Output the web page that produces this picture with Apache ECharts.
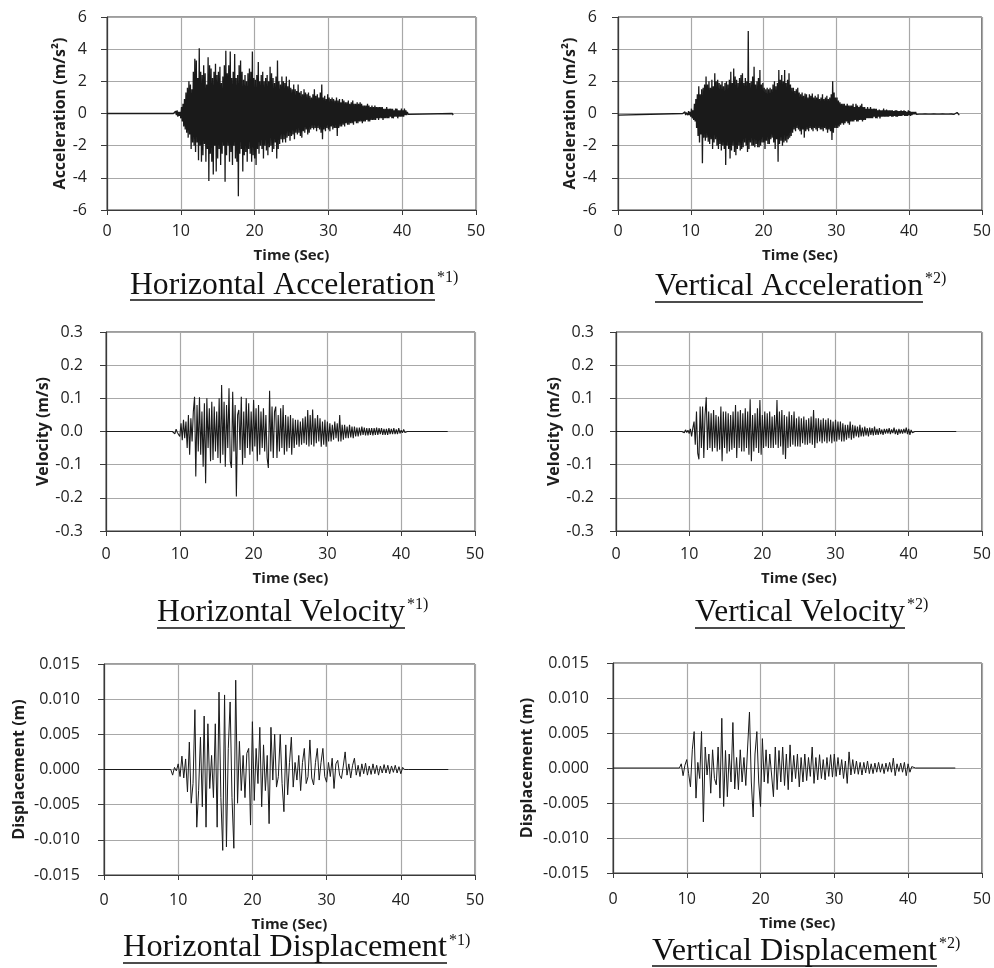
<!DOCTYPE html>
<html><head><meta charset="utf-8">
<script src="https://cdn.jsdelivr.net/npm/echarts@6/dist/echarts.min.js"></script>
<style>html,body{margin:0;padding:0;background:#fff}#c{width:994px;height:968px}</style>
</head><body><div id="c"></div>
<script>
// ---------------- DATA ----------------
const timeTicks = [0, 10, 20, 30, 40, 50];
const accTicks = [-6, -4, -2, 0, 2, 4, 6];
const velTicks = [-0.3, -0.2, -0.1, 0.0, 0.1, 0.2, 0.3];
const dispTicks = [-0.015, -0.010, -0.005, 0.000, 0.005, 0.010, 0.015];

// Horizontal acceleration (m/s2), samples every 0.1 s from 9.0 s
const hAccStart = 9.0, hAccStep = 0.1;
const hAccLead = [[0, 0]];
const hAccValues = [
0,0.1,-0.1,0.15,-0.1,0.2,-0.2,0.1,-0.15,0.1,
-0.3,0.4,-0.5,0.6,-0.8,0.9,-1.0,1.3,-1.2,1.6,
-1.5,2.0,-1.3,1.8,-2.2,1.5,-1.8,2.6,-2.0,3.4,
-2.4,3.3,-1.8,2.2,-2.9,4.05,-2.0,2.6,-3.0,2.4,
-2.6,3.0,-1.9,2.5,-3.0,1.8,-2.2,3.5,-4.2,3.0,
-2.5,2.8,-3.0,2.2,-3.8,2.6,-2.0,3.1,-3.6,2.4,
-2.8,2.6,-2.2,2.9,-3.2,1.9,-2.5,2.3,-2.0,3.0,
-4.25,3.9,-2.6,2.5,-2.0,3.0,-3.0,3.85,-2.4,2.2,
-3.2,2.6,-2.0,3.7,-2.8,2.2,-3.0,2.4,-5.15,3.0,
-2.5,3.3,-2.2,2.6,-3.6,2.1,-2.6,2.4,-2.4,2.0,
-3.0,2.5,-2.2,2.8,-2.5,2.6,-3.0,3.85,-2.6,2.2,
-2.8,2.1,-3.2,2.4,-2.2,3.2,-2.5,2.0,-2.0,2.4,
-2.2,2.6,-2.8,2.0,-2.0,2.2,-2.3,2.4,-2.6,2.0,
-2.1,2.9,-2.0,2.5,-2.4,2.2,-2.2,1.9,-1.8,2.3,
-2.8,3.3,-2.2,2.0,-1.9,1.8,-1.6,2.3,-1.8,2.0,
-1.6,1.9,-1.8,2.3,-1.5,1.7,-1.4,2.1,-1.7,1.6,
-1.4,1.5,-1.3,1.8,-1.6,1.5,-1.2,1.4,-1.3,1.8,
-1.2,1.3,-1.4,1.4,-1.5,1.2,-1.1,1.5,-1.2,1.3,
-1.0,1.2,-1.3,1.3,-1.2,1.1,-1.0,1.0,-0.9,1.2,
-1.0,1.5,-0.9,1.1,-1.1,1.2,-0.9,1.0,-1.0,1.3,
-1.2,1.8,-1.6,1.0,-1.0,1.1,-1.1,0.9,-0.9,1.2,
-1.0,1.0,-1.1,0.9,-0.8,1.0,-1.0,0.9,-0.9,0.8,
-0.9,1.0,-1.4,0.8,-0.9,0.9,-0.8,0.7,-0.8,0.9,
-0.7,0.8,-0.8,0.7,-0.6,0.7,-0.7,0.8,-0.7,0.6,
-0.6,0.7,-0.6,0.8,-0.7,0.6,-0.5,0.6,-0.6,0.7,
-0.6,0.6,-0.5,0.7,-0.5,0.6,-0.6,0.5,-0.5,0.5,
-0.5,0.5,-0.4,0.6,-0.5,0.5,-0.5,0.4,-0.4,0.5,
-0.4,0.4,-0.4,0.5,-0.4,0.4,-0.3,0.4,-0.4,0.4,
-0.3,0.4,-0.3,0.4,-0.4,0.3,-0.3,0.3,-0.3,0.4,
-0.3,0.3,-0.3,0.3,-0.2,0.3,-0.3,0.3,-0.3,0.2,
-0.2,0.3,-0.2,0.3,-0.3,0.2,-0.2,0.2,-0.2,0.3,
-0.2,0.2,-0.2,0.3,-0.1,0.2,-0.1,0.1,-0.05,0.05,
0];
const hAccTail = [[46.8, 0], [46.9, -0.1], [47.0, 0]];

// Vertical acceleration (m/s2), every 0.1 s from 9.0 s
const vAccStart = 9.0, vAccStep = 0.1;
const vAccLead = [[0, -0.1], [0.15, 0], [8.9, 0]];
const vAccValues = [
0.05,-0.05,0.1,-0.1,0.05,0.1,-0.1,0.15,-0.1,0.1,
-0.2,0.3,-0.3,0.2,-0.4,0.6,-0.5,0.9,-0.9,1.2,
-1.4,1.7,-1.8,1.2,-1.3,1.5,-3.1,1.6,-1.5,1.8,
-1.7,2.3,-1.5,1.8,-1.75,2.0,-1.9,1.6,-1.6,2.1,
-2.2,1.7,-1.8,2.5,-1.6,2.0,-2.0,2.1,-2.2,1.9,
-1.9,1.8,-2.3,2.0,-2.0,1.7,-2.2,1.9,-3.2,2.0,
-2.0,1.8,-2.2,2.1,-2.8,2.6,-2.3,1.9,-2.0,2.8,
-2.4,2.3,-2.6,2.1,-2.2,1.9,-2.0,2.2,-2.3,2.4,
-2.2,2.5,-2.1,1.9,-1.8,2.2,-2.0,2.0,-2.4,5.13,
-2.2,1.9,-1.8,2.0,-2.0,2.3,-2.0,2.9,-2.1,1.8,
-1.9,2.0,-2.1,2.2,-2.1,2.7,-2.0,1.8,-1.8,1.9,
-1.8,1.6,-2.2,1.5,-1.7,1.6,-1.9,1.5,-1.9,1.6,
-1.6,1.5,-1.5,1.8,-1.8,2.0,-2.2,1.7,-1.6,1.9,
-3.0,2.7,-1.9,2.1,-1.7,2.4,-2.0,2.0,-1.8,2.7,
-1.7,1.9,-1.8,2.1,-1.6,2.5,-1.5,1.8,-1.4,1.6,
-1.2,1.6,-1.0,1.4,-1.1,1.5,-0.9,1.6,-1.0,1.3,
-1.1,1.2,-1.3,1.3,-1.0,1.1,-1.5,1.25,-1.1,1.2,
-1.0,1.0,-1.1,1.2,-0.9,1.1,-1.0,1.25,-1.1,1.0,
-0.9,1.1,-1.0,1.0,-1.1,1.2,-0.9,0.9,-1.0,1.0,
-1.0,1.2,-1.1,0.9,-0.9,1.0,-1.0,1.1,-1.2,0.9,
-1.0,1.0,-1.1,1.2,-1.65,2.0,-1.2,1.3,-0.9,1.0,
-0.9,1.0,-0.9,0.8,-0.8,0.7,-0.7,0.6,-0.6,0.6,
-0.7,0.6,-0.6,0.5,-0.5,0.6,-0.6,0.5,-0.7,0.5,
-0.5,0.5,-0.5,0.6,-0.5,0.4,-0.4,0.6,-0.5,0.5,
-0.5,0.4,-0.4,0.5,-0.4,0.6,-0.5,0.4,-0.4,0.4,
-0.4,0.3,-0.3,0.4,-0.3,0.3,-0.3,0.4,-0.3,0.3,
-0.3,0.3,-0.2,0.3,-0.3,0.3,-0.3,0.2,-0.2,0.25,
-0.3,0.2,-0.2,0.2,-0.2,0.3,-0.2,0.2,-0.2,0.25,
-0.2,0.2,-0.2,0.2,-0.15,0.2,-0.2,0.2,-0.2,0.15,
-0.15,0.2,-0.2,0.2,-0.2,0.15,-0.15,0.15,-0.15,0.2,
-0.15,0.15,-0.1,0.2,-0.15,0.15,-0.15,0.1,-0.15,0.2,
-0.1,0.15,-0.15,0.1,-0.1,0.1,-0.05,0.1,-0.05,0.1,
-0.05];
const vAccTail = [[41.2, 0.04], [41.4, -0.04], [41.6, 0.03], [41.8, -0.04], [42.0, 0.04], [42.2, -0.03], [42.4, 0.04], [42.6, -0.04], [42.8, 0.03], [43.0, -0.04], [43.2, 0.04], [43.4, -0.03], [43.6, 0.04], [43.8, -0.04], [44.0, 0.03], [44.2, -0.04], [44.4, 0.04], [44.6, -0.03], [44.8, 0.04], [45.0, -0.04], [45.2, 0.03], [45.4, -0.04], [45.6, 0.04], [45.8, -0.03], [46.0, 0.04], [46.2, -0.05], [46.4, 0.04], [46.6, 0.06], [46.9, -0.1]];

// Horizontal velocity (m/s), six samples per second from 9.0 s
const hVelStart = 9.0, hVelStep = 1 / 6;
const hVelLead = [[0, 0]];
const hVelValues = [
0,0.005,-0.007,0.007,-0.003,0.002,
-0.015,0.025,-0.026,0.035,-0.02,0.03,
-0.05,0.05,-0.07,0.04,-0.03,0.06,
0.105,-0.136,0.08,-0.06,0.103,-0.07,
0.06,-0.106,0.085,-0.156,0.10,-0.05,
0.07,-0.09,0.09,-0.086,0.075,-0.06,
0.06,-0.08,0.1,-0.096,0.14,-0.07,
0.09,-0.106,0.08,-0.05,0.13,-0.09,
-0.11,0.12,-0.06,0.08,-0.196,0.05,
0.065,-0.056,0.105,-0.10,0.06,-0.08,
0.10,-0.05,0.085,-0.07,0.06,-0.06,
0.095,-0.045,0.07,-0.09,0.08,-0.07,
0.06,-0.05,0.07,-0.06,0.05,-0.08,
-0.11,0.123,-0.06,0.075,-0.08,0.06,
0.075,-0.08,0.05,-0.06,0.07,-0.05,
0.08,-0.07,0.05,-0.06,0.045,-0.05,
0.05,-0.07,0.04,-0.05,0.035,-0.04,
0.035,-0.046,0.03,-0.04,0.04,-0.035,
0.045,-0.04,0.065,-0.045,0.05,-0.04,
0.066,-0.045,0.04,-0.035,0.05,-0.03,
0.04,-0.046,0.03,-0.04,0.035,-0.046,
0.03,-0.03,0.025,-0.03,0.02,-0.025,
0.03,-0.02,0.025,-0.03,0.05,-0.03,
0.02,-0.025,0.02,-0.02,0.015,-0.02,
0.02,-0.018,0.015,-0.02,0.015,-0.015,
0.012,-0.015,0.012,-0.012,0.015,-0.01,
0.012,-0.012,0.01,-0.012,0.01,-0.01,
0.01,-0.012,0.01,-0.01,0.012,-0.01,
0.01,-0.008,0.01,-0.01,0.008,-0.01,
0.008,-0.01,0.01,-0.008,0.008,-0.008,
0.01,-0.008,0.006,-0.008,0.01,-0.006,
0.004,-0.004,0.006,-0.003,0.002,0,
0];
const hVelTail = [[46.3, 0]];

// Vertical velocity (m/s), six samples per second from 9.0 s
const vVelStart = 9.0, vVelStep = 1 / 6;
const vVelLead = [[0, 0]];
const vVelValues = [
0,0.003,-0.004,0.005,-0.003,0.004,
-0.006,0.008,-0.015,0.01,0.03,-0.04,
0.06,-0.065,-0.084,0.075,-0.05,0.075,
-0.08,0.05,0.103,-0.056,0.06,-0.05,
0.055,-0.06,0.065,-0.05,0.05,-0.06,
0.045,-0.055,0.075,-0.09,0.06,-0.05,
0.06,-0.066,0.055,-0.06,0.05,-0.055,
0.06,-0.05,0.08,-0.08,0.06,-0.05,
0.065,-0.06,0.055,-0.06,0.07,-0.05,
0.06,-0.07,0.097,-0.09,0.05,-0.06,
0.055,-0.05,0.07,-0.065,0.095,-0.07,
0.05,-0.05,0.06,-0.045,0.055,-0.05,
0.06,-0.05,0.045,-0.05,0.05,-0.04,
0.095,-0.05,0.06,-0.045,0.065,-0.07,
0.05,-0.083,0.045,-0.05,0.06,-0.046,
0.05,-0.04,0.06,-0.045,0.04,-0.045,
0.045,-0.046,0.04,-0.035,0.045,-0.04,
0.035,-0.04,0.04,-0.035,0.045,-0.04,
0.065,-0.05,0.04,-0.035,0.04,-0.03,
0.035,-0.035,0.04,-0.03,0.035,-0.035,
0.04,-0.03,0.035,-0.035,0.03,-0.03,
0.035,-0.03,0.03,-0.025,0.03,-0.03,
0.025,-0.03,0.02,-0.025,0.02,-0.02,
0.03,-0.025,0.02,-0.02,0.018,-0.015,
0.015,-0.018,0.02,-0.015,0.012,-0.015,
0.015,-0.012,0.01,-0.015,0.012,-0.01,
0.01,-0.012,0.015,-0.01,0.008,-0.01,
0.01,-0.008,0.006,-0.01,0.008,-0.006,
0.008,-0.006,0.01,-0.008,0.006,-0.005,
0.012,-0.008,0.006,-0.01,0.008,-0.006,
0.006,-0.006,0.008,-0.005,0.012,-0.008,
0.008,-0.01,0.005,-0.004,0.002,0,
0];
const vVelTail = [[46.5, 0]];

// Horizontal displacement (m), four samples per second from 9.0 s
const hDispStart = 9.0, hDispStep = 0.25;
const hDispLead = [[0, 0]];
const hDispValues = [
0,-0.0008,0.0003,-0.0002,
0.0008,-0.001,0.0019,-0.0012,
0.0015,-0.0032,0.0039,-0.0048,
-0.002,0.0085,-0.0082,-0.003,
0.0046,-0.0053,0.0076,-0.0082,
0.0065,-0.0027,0.002,-0.004,
0.0065,-0.0082,0.011,-0.004,
-0.0115,0.0106,-0.011,0.003,
0.0096,-0.004,-0.0112,0.0127,
-0.0048,0.004,-0.003,0.002,
-0.004,0.0023,0.003,-0.0079,
0.0068,-0.0044,0.003,-0.002,
0.006,-0.0053,0.0035,-0.003,
0.002,-0.0077,0.006,-0.0015,
0.005,-0.0025,-0.001,0.005,
-0.002,-0.006,0.0035,-0.0036,
0.001,0.0046,-0.0025,0.001,
-0.0015,0.002,-0.003,0.001,
0.003,-0.002,-0.001,0.0042,
-0.0012,-0.0022,0.001,0.003,
-0.0015,0.001,0.003,-0.001,
-0.0018,0.001,-0.001,0.0016,
-0.0027,0.0008,0.0013,-0.0008,
-0.0013,0.0005,0.0025,-0.0008,
0.0008,-0.0012,0.0006,0.0016,
-0.0008,0.0006,-0.001,0.0008,
-0.0006,0.0009,-0.0008,0.0005,
-0.0007,0.0008,-0.0006,0.0006,
-0.0008,0.0005,-0.0005,0.0007,
-0.0005,0.0006,-0.0006,0.0005,
-0.0004,0.0006,-0.0005,0.0004,
-0.0006,0.0003,0,0,
0];
const hDispTail = [[46.4, 0]];

// Vertical displacement (m), four samples per second from 9.0 s
const vDispStart = 9.0, vDispStep = 0.25;
const vDispLead = [[0, 0]];
const vDispValues = [
0,0.0006,-0.0011,0.0004,
0.0012,-0.0008,-0.0027,0.0026,
0.0052,-0.0043,0.0008,-0.0015,
0.0052,-0.0077,0.003,-0.001,
0.002,-0.0036,0.0026,-0.0015,
-0.0024,0.003,-0.0043,0.0071,
-0.0055,0.0025,-0.0041,0.002,
-0.002,0.0065,-0.003,0.0015,
-0.0031,0.0026,-0.002,0.0015,
-0.0025,0.003,0.008,-0.002,
-0.007,0.002,0.0052,-0.002,
-0.0055,0.0042,-0.002,0.0026,
-0.0022,0.002,-0.001,-0.0041,
0.003,-0.0031,0.0025,-0.002,
0.003,-0.0025,0.002,-0.0031,
0.0033,-0.002,0.0018,-0.0015,
0.002,-0.0027,0.0015,-0.002,
0.002,-0.0018,0.0015,-0.0012,
0.003,-0.0022,0.0015,-0.0017,
0.0019,-0.0015,0.0012,-0.0017,
0.0015,-0.0012,0.0019,-0.0013,
0.002,-0.0012,0.0015,-0.001,
0.0012,-0.0015,0.001,-0.0022,
0.0023,-0.001,0.0012,-0.0008,
0.001,-0.0009,0.0008,-0.001,
0.0008,-0.0007,0.001,-0.0008,
0.0006,-0.0008,0.0007,-0.0006,
0.0008,-0.0006,0.0006,-0.0008,
0.0007,-0.0005,0.0008,-0.0006,
0.0014,-0.0011,0.0006,-0.0005,
0.0007,-0.0006,0.0008,-0.0011,
0.0006,-0.0006,0.0002,0,
0];
const vDispTail = [[46.4, 0]];

const titles = ['Horizontal Acceleration', 'Vertical Acceleration', 'Horizontal Velocity', 'Vertical Velocity', 'Horizontal Displacement', 'Vertical Displacement'];
const notes = ['*1)', '*2)', '*1)', '*2)', '*1)', '*2)'];
const yNames = ['Acceleration (m/s²)', 'Acceleration (m/s²)', 'Velocity (m/s)', 'Velocity (m/s)', 'Displacement (m)', 'Displacement (m)'];
const xName = 'Time (Sec)';

// ---------------- BUILD ----------------
function build(lead, start, step, vals, tail) {
  const d = lead.map(p => p.slice());
  vals.forEach((v, i) => d.push([+(start + i * step).toFixed(4), v]));
  return d.concat(tail);
}
const seriesData = [
  build(hAccLead, hAccStart, hAccStep, hAccValues, hAccTail),
  build(vAccLead, vAccStart, vAccStep, vAccValues, vAccTail),
  build(hVelLead, hVelStart, hVelStep, hVelValues, hVelTail),
  build(vVelLead, vVelStart, vVelStep, vVelValues, vVelTail),
  build(hDispLead, hDispStart, hDispStep, hDispValues, hDispTail),
  build(vDispLead, vDispStart, vDispStep, vDispValues, vDispTail)
];
const yTickSets = [accTicks, accTicks, velTicks, velTicks, dispTicks, dispTicks];
const decimals = [0, 0, 1, 1, 3, 3];
const traceWidths = [1.3, 1.3, 1.1, 1.1, 1, 1];

// layout (pixels)
const layout = [
  {l:107, t:17,  w:369, h:193, ng:36, lm:20, xng:38, xlm:13, cx:282.5, base:296, ul:300, tw:305},
  {l:618, t:17,  w:368, h:193, ng:38, lm:21, xng:38, xlm:13, cx:789,   base:297, ul:302, tw:268},
  {l:106, t:332, w:369, h:199, ng:54, lm:23, xng:40, xlm:15, cx:281,   base:623, ul:628, tw:248},
  {l:616, t:332, w:369, h:199, ng:54, lm:22, xng:40, xlm:15, cx:800,   base:623, ul:628, tw:210},
  {l:104, t:664, w:371, h:211, ng:77, lm:24, xng:42, xlm:17, cx:285,   base:959, ul:963, tw:324},
  {l:613, t:663, w:371, h:210, ng:78, lm:24, xng:43, xlm:18, cx:794.5, base:962, ul:966, tw:285}
];

const FONT = '"Open Sans", "Liberation Sans", sans-serif';
const SERIF = '"Liberation Serif", "DejaVu Serif", serif';
const ctx = document.createElement('canvas').getContext('2d');
function measure(txt, size) { ctx.font = size + 'px ' + SERIF; return ctx.measureText(txt).width; }

const grids = [], xAxes = [], yAxes = [], series = [], graphics = [];
layout.forEach((L, i) => {
  const ticks = yTickSets[i];
  const step = +(ticks[1] - ticks[0]).toFixed(6);
  grids.push({left: L.l, top: L.t, width: L.w, height: L.h, show: true, borderColor: '#3a3a3a', borderWidth: 1, containLabel: false});
  xAxes.push({
    type: 'value', gridIndex: i, min: timeTicks[0], max: timeTicks[timeTicks.length - 1], interval: timeTicks[1] - timeTicks[0],
    name: xName, nameLocation: 'middle', nameGap: L.xng,
    nameTextStyle: {fontFamily: FONT, fontWeight: 'bold', fontSize: 15, color: '#1e1e1e'},
    axisLine: {onZero: false, lineStyle: {color: '#3a3a3a', width: 1.2}},
    axisTick: {show: true, length: 5, lineStyle: {color: '#3a3a3a'}},
    axisLabel: {fontFamily: FONT, fontSize: 16, color: '#222', margin: L.xlm},
    splitLine: {show: true, lineStyle: {color: '#a8a8a8', width: 1.2}}
  });
  yAxes.push({
    type: 'value', gridIndex: i, min: ticks[0], max: ticks[ticks.length - 1], interval: step,
    name: yNames[i], nameLocation: 'middle', nameGap: L.ng,
    nameTextStyle: {fontFamily: FONT, fontWeight: 'bold', fontSize: 16, color: '#1e1e1e'},
    axisLine: {show: true, onZero: false, lineStyle: {color: '#3a3a3a', width: 1.2}},
    axisTick: {show: true, length: 6, lineStyle: {color: '#3a3a3a'}},
    axisLabel: {fontFamily: FONT, fontSize: 16, color: '#222', margin: L.lm,
      formatter: v => { const r = Math.abs(v) < 1e-9 ? 0 : v; return r.toFixed(decimals[i]); }},
    splitLine: {show: true, lineStyle: {color: '#a8a8a8', width: 1.2}}
  });
  series.push({
    type: 'line', xAxisIndex: i, yAxisIndex: i, data: seriesData[i],
    showSymbol: false, symbol: 'none', sampling: null, smooth: false, animation: false,
    lineStyle: {color: '#1a1a1a', width: traceWidths[i]}
  });
  // title with underline and superscript note
  const fs = 31 * L.tw / measure(titles[i], 31);
  graphics.push({type: 'text', z: 10, style: {text: titles[i], x: L.cx, y: L.base - 0.34 * fs,
    font: fs.toFixed(2) + 'px ' + SERIF, fill: '#111', textAlign: 'center', textVerticalAlign: 'middle', align: 'center', verticalAlign: 'middle'}});
  graphics.push({type: 'line', z: 10, shape: {x1: L.cx - L.tw / 2, y1: L.ul, x2: L.cx + L.tw / 2, y2: L.ul}, style: {stroke: '#111', lineWidth: 1.6}});
  graphics.push({type: 'text', z: 10, style: {text: notes[i], x: L.cx + L.tw / 2 + 2, y: L.base - 13 - 0.34 * 16,
    font: '16px ' + SERIF, fill: '#111', textAlign: 'left', textVerticalAlign: 'middle', align: 'left', verticalAlign: 'middle'}});
});

const chart = echarts.init(document.getElementById('c'), null, {renderer: 'canvas'});
chart.setOption({
  backgroundColor: '#ffffff',
  animation: false,
  grid: grids, xAxis: xAxes, yAxis: yAxes, series: series,
  graphic: graphics
});
</script>
</body></html>
